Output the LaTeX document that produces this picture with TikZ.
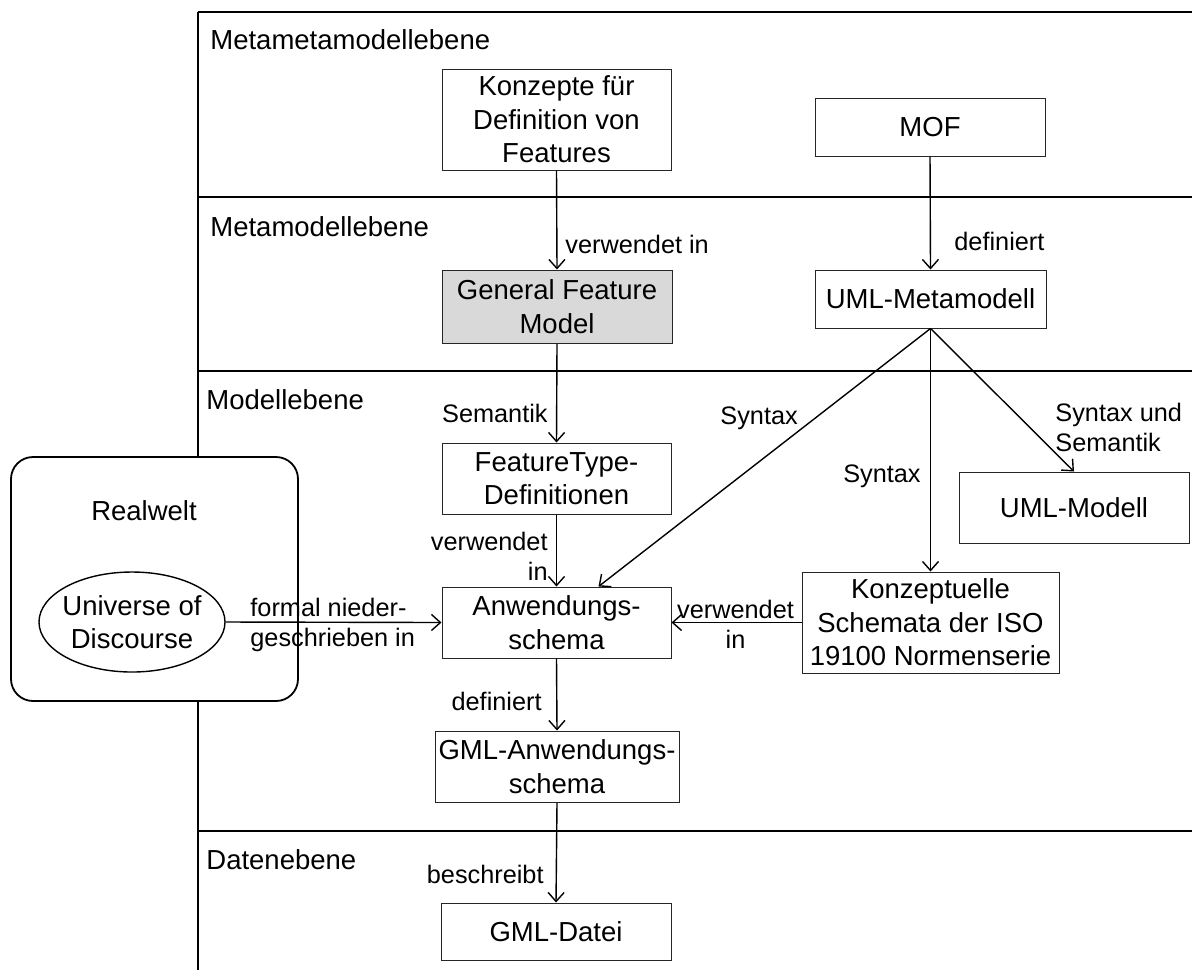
\documentclass[tikz,border=0pt]{standalone}
\usepackage{fontspec}
\setmainfont{Liberation Sans}
\usetikzlibrary{arrows.meta,shapes.geometric}
\begin{document}
\begin{tikzpicture}[x=0.5pt,y=-0.5pt,
  boxfont/.style={font=\fontsize{13.75}{16.75}\selectfont},
  labfont/.style={font=\fontsize{12.65}{15}\selectfont},
  sep/.style={line width=1pt},
  box/.style={draw=black!85,line width=0.5pt,inner sep=0pt,align=center,boxfont},
  gray box/.style={box,fill=black!15},
  conn/.style={line width=0.7pt,-{Straight Barb[length=4.5pt,width=8pt,line width=0.7pt]}},
  level/.style={boxfont,inner sep=0pt,anchor=base west},
  lab/.style={labfont,inner sep=0pt,align=left}]
\useasboundingbox[fill=white] (0,0) rectangle (1192,970);

% layer frame
\draw[sep] (198,12) -- (1192,12);
\draw[sep] (198,12) -- (198,970);
\draw[sep] (198,197) -- (1192,197);
\draw[sep] (198,371) -- (1192,371);
\draw[sep] (198,831) -- (1192,831);

% layer titles
\node[level] (t1) at (210,49) {Metametamodellebene};
\node[level] (t2) at (210,236) {Metamodellebene};
\node[level] (t3) at (206,409) {Modellebene};
\node[level] (t4) at (206,869) {Datenebene};

% real world
\node[draw,line width=0.9pt,rounded corners=11pt,fill=white,minimum width=143.5pt,minimum height=122pt,inner sep=0pt] (real) at (154.5,579) {};
\node[boxfont,inner sep=0pt,anchor=base] (realtxt) at (144,520) {Realwelt};
\node[draw,ellipse,line width=0.7pt,minimum width=93pt,minimum height=50pt,inner sep=0pt] (uod) at (132,622) {};
\node[boxfont,inner sep=0pt,align=center] (uodtxt) at (uod.center) {Universe of\\Discourse};

% boxes
\node[box,minimum width=114.5pt,minimum height=50.5pt] (konz) at (556.5,119.5) {Konzepte für\\Definition von\\Features};
\node[box,minimum width=115pt,minimum height=29pt] (mof) at (930,127) {MOF};
\node[gray box,minimum width=115pt,minimum height=36.5pt] (gfm) at (557,306.5) {General Feature\\Model};
\node[box,minimum width=115.5pt,minimum height=29pt] (umlmeta) at (930.5,299) {UML-Metamodell};
\node[box,minimum width=114.5pt,minimum height=35.5pt] (ftd) at (556.5,478.5) {FeatureType-\\Definitionen};
\node[box,minimum width=115pt,minimum height=35.5pt] (umlmod) at (1074,507.5) {UML-Modell};
\node[box,minimum width=114.5pt,minimum height=35.5pt] (anw) at (556.5,622.5) {Anwendungs-\\schema};
\node[box,minimum width=128.5pt,minimum height=50.5pt] (kons) at (930.5,622.5) {Konzeptuelle\\Schemata der ISO\\19100 Normenserie};
\node[box,minimum width=122pt,minimum height=35.5pt] (gmlanw) at (557,766.5) {GML-Anwendungs-\\schema};
\node[box,minimum width=115pt,minimum height=28.5pt] (gmldat) at (556,931.5) {GML-Datei};

% connectors
\draw[conn] (konz.south) -- (gfm.north);
\draw[conn] (mof.south) -- (umlmeta.north);
\draw[conn] (gfm.south) -- (ftd.north);
\draw[conn] (ftd.south) -- (anw.north);
\draw[conn] (umlmeta.south) -- ([xshift=21pt]anw.north);
\draw[conn] (umlmeta.south) -- (kons.north);
\draw[conn] (umlmeta.south) -- (umlmod.north);
\draw[conn] (kons.west) -- (anw.east);
\draw[conn] (uod.east) -- (anw.west);
\draw[conn] (anw.south) -- (gmlanw.north);
\draw[conn] (gmlanw.south) -- (gmldat.north);

% connector labels
\node[lab,anchor=base west] (l1) at (565,253) {verwendet in};
\node[lab,anchor=base west] (l2) at (954,250) {definiert};
\node[lab,anchor=base east] (l3) at (548,422) {Semantik};
\node[lab,anchor=base west] (l4) at (720,424) {Syntax};
\node[lab,anchor=base east] (l5) at (921,482) {Syntax};
\node[lab,anchor=north west] (l6) at (1055,403) {Syntax und\\Semantik};
\node[lab,anchor=north east,align=right] (l7) at (548,532) {verwendet\\in};
\node[lab,anchor=north,align=center] (l8) at (735.5,600) {verwendet\\in};
\node[lab,anchor=north west] (l9) at (250,598) {formal nieder-\\geschrieben in};
\node[lab,anchor=base east] (l10) at (542,710) {definiert};
\node[lab,anchor=base east] (l11) at (544,883) {beschreibt};
\end{tikzpicture}
\end{document}
